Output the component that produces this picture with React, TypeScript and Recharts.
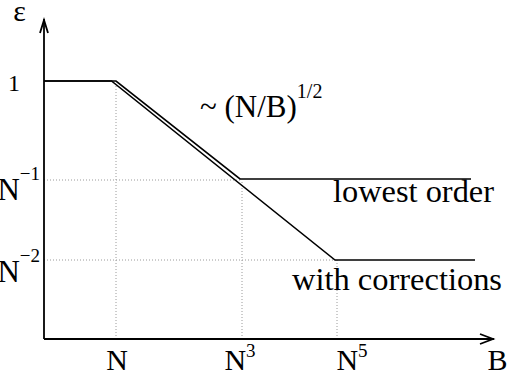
import { LineChart, Line, XAxis, YAxis, ReferenceLine, ReferenceDot } from 'recharts';

const FONT = '"Liberation Serif", "Times New Roman", serif';

// schematic units: b runs along the B axis, eps up the epsilon axis
const xTicks = [72, 198, 293];
const xTickBase = ['N', 'N', 'N'];
const xTickSup = ['', '3', '5'];

const yTicks = [79, 159, 258];
const yTickBase = ['N', 'N', '1'];
const yTickSup = ['\u22122', '\u22121', ''];

const lowestOrder = [
  { b: 0, eps: 258 },
  { b: 72, eps: 258 },
  { b: 196, eps: 160 },
  { b: 427, eps: 160 },
];

const withCorrections = [
  { b: 0, eps: 258 },
  { b: 67.5, eps: 258 },
  { b: 291, eps: 79 },
  { b: 431, eps: 79 },
];

// dotted guides: [x1, y1, x2, y2]
const guides = [
  [72, 0, 72, 255],
  [198, 0, 198, 159],
  [293, 0, 293, 79],
  [0, 159, 198, 159],
  [0, 79, 293, 79],
];

const xTickDx = [1, -2, 15];
const yTickDx = [-4, -4, -24];
const yTickDy = [22, 20, 10];

const XTick = (props: any) => {
  const { x, y, index } = props;
  return (
    <text x={x + xTickDx[index]} y={y + 31} textAnchor="middle" fontFamily={FONT} fontSize={30} fill="#000">
      <tspan>{xTickBase[index]}</tspan>
      {xTickSup[index] && <tspan fontSize={19} dy={-13}>{xTickSup[index]}</tspan>}
    </text>
  );
};

const YTick = (props: any) => {
  const { x, y, index } = props;
  const isOne = yTickBase[index] === '1';
  return (
    <text x={x + yTickDx[index]} y={y + yTickDy[index]} textAnchor="end" fontFamily={FONT} fontSize={isOne ? 24 : 31} fill="#000">
      <tspan>{yTickBase[index]}</tspan>
      {yTickSup[index] && <tspan fontSize={19} dy={-20}>{yTickSup[index]}</tspan>}
    </text>
  );
};

export default function App() {
  return (
    <div style={{ position: 'absolute', left: 0, top: 0, background: '#fff' }}>
      <LineChart width={508} height={374} margin={{ top: 19, right: 14, bottom: 0, left: 0 }}>
        <XAxis
          type="number"
          dataKey="b"
          domain={[0, 450]}
          ticks={xTicks}
          interval={0}
          height={35}
          tickSize={0}
          tickMargin={0}
          tickLine={false}
          axisLine={{ stroke: '#000', strokeWidth: 1.8 }}
          tick={<XTick />}
          allowDataOverflow
        />
        <YAxis
          type="number"
          dataKey="eps"
          domain={[0, 320]}
          ticks={yTicks}
          interval={0}
          width={44}
          tickSize={0}
          tickMargin={0}
          tickLine={false}
          axisLine={{ stroke: '#000', strokeWidth: 1.8 }}
          tick={<YTick />}
          allowDataOverflow
        />
        {guides.map((g, i) => (
          <ReferenceLine
            key={i}
            segment={[{ x: g[0], y: g[1] }, { x: g[2], y: g[3] }]}
            stroke="#9a9a9a"
            strokeWidth={1}
            strokeDasharray="1 2"
          />
        ))}
        <Line data={lowestOrder} dataKey="eps" stroke="#000" strokeWidth={1.6} dot={false} isAnimationActive={false} />
        <Line data={withCorrections} dataKey="eps" stroke="#000" strokeWidth={1.6} dot={false} isAnimationActive={false} />
        {/* axis arrows and axis names */}
        <ReferenceDot
          x={450}
          y={0}
          r={0}
          ifOverflow="visible"
          shape={(p: any) => (
            <g>
              <path d={`M${p.cx - 14},${p.cy - 5} L${p.cx - 1},${p.cy} L${p.cx - 14},${p.cy + 5}`} fill="none" stroke="#000" strokeWidth={1.8} />
              <text x={p.cx + 3.5} y={p.cy + 31} textAnchor="middle" fontFamily={FONT} fontSize={30} fill="#000">B</text>
            </g>
          )}
        />
        <ReferenceDot
          x={0}
          y={320}
          r={0}
          ifOverflow="visible"
          shape={(p: any) => (
            <g>
              <path d={`M${p.cx - 4},${p.cy + 14} L${p.cx},${p.cy + 1} L${p.cx + 4},${p.cy + 14}`} fill="none" stroke="#000" strokeWidth={1.8} />
              <text x={p.cx - 24.5} y={p.cy + 2} textAnchor="middle" fontFamily={FONT} fontSize={30} fill="#000">ε</text>
            </g>
          )}
        />
        {/* curve labels */}
        <ReferenceDot
          x={427}
          y={160}
          r={0}
          ifOverflow="visible"
          shape={(p: any) => (
            <text x={p.cx - 138} y={p.cy + 23} textLength={161} lengthAdjust="spacingAndGlyphs" fontFamily={FONT} fontSize={31} fill="#000">lowest order</text>
          )}
        />
        <ReferenceDot
          x={431}
          y={79}
          r={0}
          ifOverflow="visible"
          shape={(p: any) => (
            <text x={p.cx - 183} y={p.cy + 30} textLength={210} lengthAdjust="spacingAndGlyphs" fontFamily={FONT} fontSize={31} fill="#000">with corrections</text>
          )}
        />
        <ReferenceDot
          x={156}
          y={222}
          r={0}
          ifOverflow="visible"
          shape={(p: any) => (
            <text x={p.cx} y={p.cy} fontFamily={FONT} fontSize={31} fill="#000">
              <tspan>~ (N/B)</tspan>
              <tspan fontSize={20} dy={-19}>1/2</tspan>
            </text>
          )}
        />
      </LineChart>
    </div>
  );
}
